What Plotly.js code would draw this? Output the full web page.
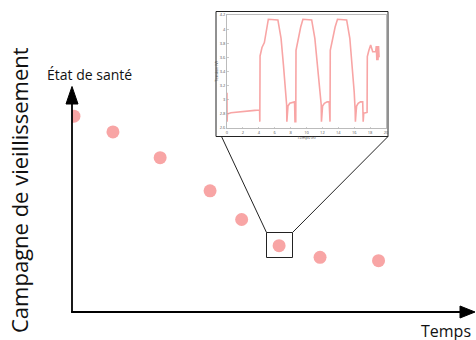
<!DOCTYPE html>
<html>
<head>
<meta charset="utf-8">
<script src="https://cdn.plot.ly/plotly-3.0.1.min.js"></script>
<style>html,body{margin:0;padding:0;background:#fff;}#chart{width:476px;height:340px;}</style>
</head>
<body>
<div id="chart"></div>
<script>
// Main schematic: health state over time (arbitrary units)
const campaignTime = [0.5, 10.5, 22.6, 35.4, 43.5, 53.1, 63.6, 78.6];
const healthState  = [87.4, 80.4, 68.9, 54.1, 41.3, 29.6, 24.4, 22.9];

// Inset: voltage vs time
const insetTime = [
  0.0, 0.01, 0.05, 0.5, 1.5, 2.5, 3.5, 4.1,
  4.13, 4.16, 4.4, 4.7, 5.0, 5.2, 6.4, 6.8, 7.1, 7.38, 7.5, 7.53,
  7.6, 7.67, 7.9, 8.3, 8.5, 8.55,
  8.65, 8.68, 8.97, 9.27, 9.55, 10.65, 11.05, 11.4, 11.75, 11.85, 11.88,
  11.95, 12.02, 12.25, 12.6, 12.85, 12.9,
  12.96, 12.99, 13.3, 13.6, 13.9, 15.05, 15.45, 15.75, 16.0, 16.12, 16.15,
  16.22, 16.3, 16.5, 16.8, 17.07, 17.13,
  17.16, 17.2, 17.62, 17.65, 17.85, 18.07, 18.33, 18.7, 18.78, 18.85, 18.92, 18.99, 19.06, 19.13
];
const insetVoltage = [
  3.10, 2.69, 2.80, 2.815, 2.83, 2.84, 2.85, 2.855,
  2.69, 3.62, 3.74, 3.81, 4.05, 4.14, 4.13, 3.87, 3.49, 3.11, 2.93, 2.69,
  2.80, 2.91, 2.95, 2.97, 2.97, 2.69,
  2.69, 3.70, 3.87, 4.03, 4.14, 4.13, 3.87, 3.49, 3.11, 2.93, 2.69,
  2.80, 2.91, 2.95, 2.97, 2.97, 2.69,
  2.69, 3.70, 3.87, 4.03, 4.14, 4.13, 3.87, 3.49, 3.11, 2.85, 2.69,
  2.80, 2.91, 2.95, 2.97, 2.97, 2.69,
  2.81, 2.81, 2.82, 3.61, 3.70, 3.775, 3.68, 3.68, 3.76, 3.56, 3.76, 3.56, 3.76, 3.60
];
const insetXTicks = [0, 2, 4, 6, 8, 10, 12, 14, 16, 18, 20];
const insetYTicks = [2.6, 2.8, 3, 3.2, 3.4, 3.6, 3.8, 4, 4.2];

const W = 476, H = 340;
const px = x => x / W;
const py = y => 1 - y / H;
const pink = '#f8a5a5';

const traces = [
  {x: campaignTime, y: healthState, type: 'scatter', mode: 'markers',
   marker: {color: pink, size: 13}, xaxis: 'x', yaxis: 'y', hoverinfo: 'none'},
  {x: insetTime, y: insetVoltage, type: 'scatter', mode: 'lines',
   line: {color: pink, width: 1.6}, xaxis: 'x2', yaxis: 'y2', hoverinfo: 'none'}
];

function pathP(pts) {
  return 'M ' + pts.map(p => px(p[0]) + ',' + py(p[1])).join(' L ') + ' Z';
}

const shapes = [
  // inset outer frame
  {type: 'rect', xref: 'paper', yref: 'paper', x0: px(216), x1: px(388), y0: py(136.5), y1: py(11.5),
   line: {color: '#222', width: 1}, fillcolor: '#fff', layer: 'below'},
  // axes lines
  {type: 'line', xref: 'paper', yref: 'paper', x0: px(72), x1: px(72), y0: py(312.5), y1: py(100),
   line: {color: '#000', width: 1.8}},
  {type: 'line', xref: 'paper', yref: 'paper', x0: px(71.1), x1: px(463), y0: py(312), y1: py(312),
   line: {color: '#000', width: 1.8}},
  // arrowheads
  {type: 'path', xref: 'paper', yref: 'paper', path: pathP([[66, 104], [72, 86.5], [78, 104]]),
   fillcolor: '#000', line: {color: '#000', width: 1}},
  {type: 'path', xref: 'paper', yref: 'paper', path: pathP([[460, 306], [475, 312], [460, 318]]),
   fillcolor: '#000', line: {color: '#000', width: 1}},
  // zoom box around a point
  {type: 'rect', xref: 'paper', yref: 'paper', x0: px(266.5), x1: px(292.5), y0: py(257.5), y1: py(232.5),
   line: {color: '#222', width: 1}},
  // connector lines
  {type: 'line', xref: 'paper', yref: 'paper', x0: px(266.5), y0: py(232.5), x1: px(221.5), y1: py(136.5),
   line: {color: '#222', width: 1}},
  {type: 'line', xref: 'paper', yref: 'paper', x0: px(292.5), y0: py(232.5), x1: px(388), y1: py(136.5),
   line: {color: '#222', width: 1}}
];

const font = 'Open Sans, Noto Sans, sans-serif';
const annotations = [
  {text: 'État de santé', xref: 'paper', yref: 'paper', x: px(89.5), y: py(74), showarrow: false,
   xanchor: 'center', yanchor: 'middle', font: {family: font, size: 14, color: '#111'}},
  {text: 'Campagne de vieillissement', xref: 'paper', yref: 'paper', x: px(19), y: py(45), showarrow: false,
   textangle: -90, xanchor: 'center', yanchor: 'top', font: {family: font, size: 22, color: '#111'}},
  {text: 'Temps', xref: 'paper', yref: 'paper', x: px(446), y: py(331), showarrow: false,
   xanchor: 'center', yanchor: 'middle', font: {family: font, size: 16, color: '#111'}}
];

const hidden = {visible: false, showgrid: false, zeroline: false, fixedrange: true};
const insetAxis = {
  showline: true, mirror: true, linecolor: '#aaa', linewidth: 0.8,
  ticks: 'inside', ticklen: 1.5, tickcolor: '#aaa', tickwidth: 0.6,
  showgrid: false, zeroline: false,
  tickfont: {family: font, size: 4, color: '#555'}, tickmode: 'array'
};

const layout = {
  width: W, height: H, margin: {l: 0, r: 0, t: 0, b: 0},
  paper_bgcolor: '#fff', plot_bgcolor: 'rgba(0,0,0,0)', showlegend: false,
  xaxis: Object.assign({}, hidden, {domain: [px(72), px(462)], range: [0, 100]}),
  yaxis: Object.assign({}, hidden, {domain: [py(312), py(88)], range: [0, 100]}),
  xaxis2: Object.assign({}, insetAxis, {domain: [px(227), px(386)], anchor: 'y2', range: [0, 20],
    tickvals: insetXTicks, ticktext: insetXTicks.map(String),
    title: {text: 'Temps (h)', font: {family: font, size: 4, color: '#444'}, standoff: 1}}),
  yaxis2: Object.assign({}, insetAxis, {domain: [py(128), py(15)], anchor: 'x2', range: [2.6, 4.2],
    tickvals: insetYTicks, ticktext: insetYTicks.map(String),
    title: {text: 'Tension (V)', font: {family: font, size: 4, color: '#444'}, standoff: 1}}),
  shapes: shapes, annotations: annotations
};

Plotly.newPlot('chart', traces, layout, {staticPlot: true, displayModeBar: false});
</script>
</body>
</html>
